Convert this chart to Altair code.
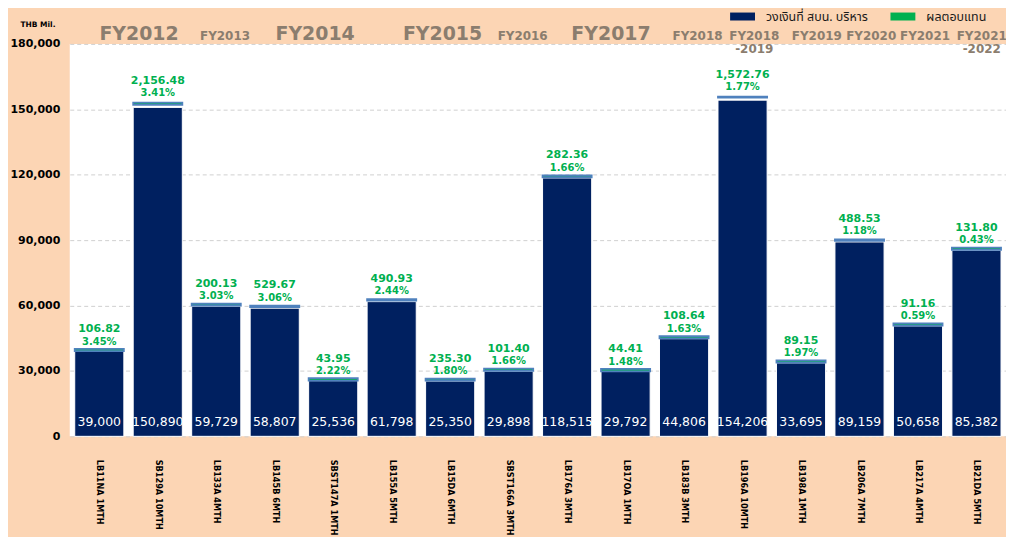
import altair as alt
import pandas as pd

# ---------------- data ----------------
BONDS = ["LB11NA 1MTH", "SB129A 10MTH", "LB133A 4MTH", "LB145B 6MTH",
         "SBST147A 1MTH", "LB155A 5MTH", "LB15DA 6MTH", "SBST166A 3MTH",
         "LB176A 3MTH", "LB17OA 1MTH", "LB183B 3MTH", "LB196A 10MTH",
         "LB198A 1MTH", "LB206A 7MTH", "LB217A 4MTH", "LB21DA 5MTH"]
AMOUNT = [39000, 150890, 59729, 58807, 25536, 61798, 25350, 29898,
          118515, 29792, 44806, 154206, 33695, 89159, 50658, 85382]
RETURN = [106.82, 2156.48, 200.13, 529.67, 43.95, 490.93, 235.30, 101.40,
          282.36, 44.41, 108.64, 1572.76, 89.15, 488.53, 91.16, 131.80]
RATE = [3.45, 3.41, 3.03, 3.06, 2.22, 2.44, 1.80, 1.66,
        1.66, 1.48, 1.63, 1.77, 1.97, 1.18, 0.59, 0.43]

SERIES = ["วงเงินที่ สบน. บริหาร", "ผลตอบแทน"]

FY_BIG = ["FY2012", "FY2014", "FY2015", "FY2017"]
FY_BIG_ANCHOR = ["SB129A 10MTH", "SBST147A 1MTH", "LB15DA 6MTH", "LB17OA 1MTH"]
FY_SMALL = ["FY2013", "FY2016", "FY2018", "FY2018\n-2019", "FY2019",
            "FY2020", "FY2021", "FY2021\n-2022"]
FY_SMALL_ANCHOR = ["LB133A 4MTH", "SBST166A 3MTH", "LB183B 3MTH", "LB196A 10MTH",
                   "LB198A 1MTH", "LB206A 7MTH", "LB217A 4MTH", "LB21DA 5MTH"]

# ---------------- layout / style ----------------
NAVY = "#002060"
GREEN = "#00B050"
EDGE = "#4F81BD"
PEACH = "#FCD5B4"
FY_COLOR = "#8B7D6E"
PAD_INNER = 0.16
PAD_OUTER = 0.085
# horizontal shift of the FY captions, in bar steps from their anchor bar
FY_BIG_SHIFT = [-0.32, -0.31, -0.13, -0.25]
FY_SMALL_SHIFT = [0.15, 0.24, 0.23, 0.20, 0.27, 0.20, 0.12, 0.09]

df = pd.DataFrame({
    "bond": BONDS,
    "amount": AMOUNT,
    "ret": RETURN,
    "rate": RATE,
})
df["total"] = df["amount"] + df["ret"]
df["ret_label"] = [f"{v:,.2f}" for v in RETURN]
df["rate_label"] = [f"{v:.2f}%" for v in RATE]
df["amount_label"] = [f"{v:,}" for v in AMOUNT]
df["s_amount"] = SERIES[0]
df["s_ret"] = SERIES[1]

n = len(BONDS)
u0 = -(PAD_OUTER + (1 - PAD_INNER) / 2)
u1 = n - 0.5 + PAD_OUTER - PAD_INNER / 2


def fy_frame(labels, anchors, shifts):
    return pd.DataFrame({
        "label": labels,
        "pos": [BONDS.index(a) + s for a, s in zip(anchors, shifts)],
    })


fy_big = fy_frame(FY_BIG, FY_BIG_ANCHOR, FY_BIG_SHIFT)
fy_small = fy_frame(FY_SMALL, FY_SMALL_ANCHOR, FY_SMALL_SHIFT)

xband = alt.X("bond:N", sort=BONDS,
              scale=alt.Scale(paddingInner=PAD_INNER, paddingOuter=PAD_OUTER),
              axis=alt.Axis(title=None, labelAngle=90, labelAlign="left",
                            labelBaseline="middle", labelPadding=23,
                            labelFont="DejaVu Sans", labelFontWeight="bold",
                            labelFontSize=8.2, labelColor="black",
                            ticks=False, domain=False, labelLimit=200))

yscale = alt.Scale(domain=[0, 180000], nice=False)
yaxis = alt.Axis(values=list(range(0, 180001, 30000)), format=",.0f",
                 title="THB Mil.", titleAngle=0, titleAlign="left",
                 titleBaseline="middle", titleX=-50, titleY=-19,
                 titleFontSize=7.5, titleFont="DejaVu Sans", titleFontWeight="bold",
                 titleColor="black",
                 labelFont="DejaVu Sans", labelFontWeight="bold", labelFontSize=11,
                 labelColor="black", labelPadding=10, ticks=False, domain=False,
                 grid=True, gridColor="#D0D0D0", gridDash=[4, 3], gridWidth=1)

color_scale = alt.Scale(domain=SERIES, range=[NAVY, GREEN])
legend = alt.Legend(title=None, orient="none", direction="horizontal",
                    legendX=663, legendY=-40,
                    symbolType="M-1,-0.32H1V0.32H-1Z", symbolSize=625,
                    symbolStrokeWidth=0, symbolOpacity=1,
                    labelFont="Noto Sans Thai, Loma, Garuda, Tlwg Typo, Norasi, sans-serif",
                    labelFontSize=12.5, labelColor="#1a1a1a", labelOffset=11,
                    columnPadding=22, padding=0)

base = alt.Chart(df)

bars = base.mark_bar(stroke="white", strokeWidth=1).encode(
    x=xband,
    y=alt.Y("amount:Q", scale=yscale, axis=yaxis),
    color=alt.Color("s_amount:N", scale=color_scale, legend=legend),
)

tops = base.mark_bar(stroke=EDGE, strokeWidth=1.8, yOffset=-2.5).encode(
    x=alt.X("bond:N", sort=BONDS),
    y=alt.Y("amount:Q"),
    y2="total:Q",
    color=alt.Color("s_ret:N", scale=color_scale, legend=legend),
)

inner = base.mark_text(color="white", font="DejaVu Sans", fontSize=12.5,
                       baseline="middle", dy=-14).encode(
    x=alt.X("bond:N", sort=BONDS),
    y=alt.datum(0),
    text="amount_label:N",
)

ret_text = base.mark_text(color=GREEN, font="DejaVu Sans", fontWeight="bold",
                          fontSize=11, baseline="alphabetic", dy=-19).encode(
    x=alt.X("bond:N", sort=BONDS),
    y=alt.Y("total:Q"),
    text="ret_label:N",
)

rate_text = base.mark_text(color=GREEN, font="DejaVu Sans", fontWeight="bold",
                           fontSize=10, baseline="alphabetic", dy=-6.5).encode(
    x=alt.X("bond:N", sort=BONDS),
    y=alt.Y("total:Q"),
    text="rate_label:N",
)

fx = alt.Scale(domain=[u0, u1], nice=False, zero=False)

fy_big_text = alt.Chart(fy_big).mark_text(
    color=FY_COLOR, font="DejaVu Sans", fontWeight="bold", fontSize=19,
    baseline="alphabetic", align="center").encode(
    x=alt.X("pos:Q", scale=fx, axis=None),
    y=alt.value(-4),
    text="label:N",
)

fy_small_text = alt.Chart(fy_small).mark_text(
    color=FY_COLOR, font="DejaVu Sans", fontWeight="bold", fontSize=12,
    baseline="alphabetic", align="center", lineBreak="\n", lineHeight=13).encode(
    x=alt.X("pos:Q", scale=fx, axis=None),
    y=alt.value(-4),
    text="label:N",
)

band_layer = alt.layer(bars, tops, inner, ret_text, rate_text)
fy_layer = alt.layer(fy_big_text, fy_small_text)

chart = alt.layer(band_layer, fy_layer).resolve_scale(
    x="independent"
).properties(
    width=940, height=394,
    padding={"left": 62, "top": 35, "right": 0, "bottom": 100},
    autosize=alt.AutoSizeParams(type="none"),
    background=PEACH,
).configure_view(stroke=None, fill="white")

chart.save("out.html", embed_options={"renderer": "svg", "actions": False})
